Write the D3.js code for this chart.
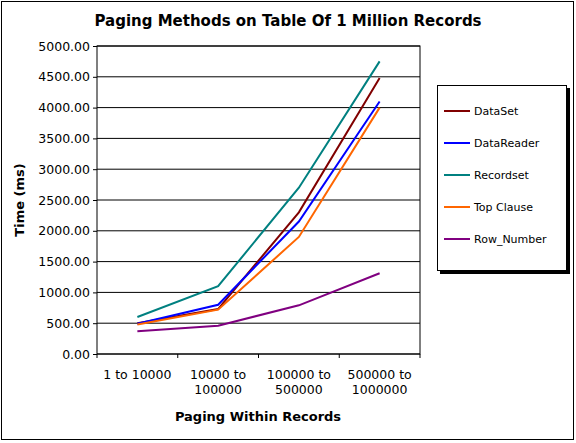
<!DOCTYPE html><html><head><meta charset="utf-8">
<script src="https://cdn.jsdelivr.net/npm/d3@7"></script>
<style>body{margin:0;background:#fff}text{font-family:"DejaVu Sans",Arial,sans-serif}</style></head><body>
<svg id="c" width="576" height="443"></svg>
<script>
const categories=[["1 to 10000"],["10000 to","100000"],["100000 to","500000"],["500000 to","1000000"]];
const seriesNames=["DataSet","DataReader","Recordset","Top Clause","Row_Number"];
const seriesColors=["#800000","#0000ff","#008080","#ff6600","#800080"];
const dataSet=[500,730,2300,4480];
const dataReader=[490,800,2150,4100];
const recordset=[600,1100,2700,4750];
const topClause=[480,720,1900,4000];
const rowNumber=[370,460,790,1310];
const yTicks=[0,500,1000,1500,2000,2500,3000,3500,4000,4500,5000];
const series=[dataSet,dataReader,recordset,topClause,rowNumber];

const svg=d3.select("#c");
svg.append("rect").attr("x",1.5).attr("y",1.5).attr("width",572).attr("height",438).attr("fill","#fff").attr("stroke","#000");
const L=97,R=420,T=46,B=354;
const x=d3.scaleBand().domain(d3.range(4)).range([L,R]);
const y=d3.scaleLinear().domain([0,5000]).range([B,T]);
svg.append("text").attr("x",288).attr("y",26).attr("text-anchor","middle").attr("font-size",15).attr("font-weight","bold").text("Paging Methods on Table Of 1 Million Records");
const g=svg.append("g");
yTicks.forEach(t=>g.append("line").attr("x1",L).attr("x2",R).attr("y1",y(t)).attr("y2",y(t)).attr("stroke","#000"));
g.append("rect").attr("x",L).attr("y",T).attr("width",R-L).attr("height",B-T).attr("fill","none").attr("stroke","#000");
const ya=svg.append("g").attr("transform",`translate(${L},0)`).call(d3.axisLeft(y).tickValues(yTicks).tickFormat(d3.format(".2f")).tickSize(4));
ya.select(".domain").remove();
ya.selectAll("text").attr("font-size",12.5).attr("font-family","DejaVu Sans").attr("fill","#000");
const xa=svg.append("g").attr("transform",`translate(0,${B})`);
d3.range(5).forEach(i=>{const xx=i<4?x(i):R;xa.append("line").attr("x1",xx).attr("x2",xx).attr("y1",0).attr("y2",4).attr("stroke","#000");});
categories.forEach((c,i)=>{const t=xa.append("text").attr("x",x(i)+x.bandwidth()/2).attr("y",25).attr("text-anchor","middle").attr("font-size",12.5);
 c.forEach((s,j)=>t.append("tspan").attr("x",x(i)+x.bandwidth()/2).attr("dy",j?15:0).text(s));});
svg.append("text").attr("x",258).attr("y",421).attr("text-anchor","middle").attr("font-size",13).attr("font-weight","bold").text("Paging Within Records");
svg.append("text").attr("transform","translate(24,200) rotate(-90)").attr("text-anchor","middle").attr("font-size",13).attr("font-weight","bold").text("Time (ms)");
const line=d3.line().x((d,i)=>x(i)+x.bandwidth()/2).y(d=>y(d));
series.forEach((s,k)=>svg.append("path").attr("d",line(s)).attr("fill","none").attr("stroke",seriesColors[k]).attr("stroke-width",2));
svg.append("rect").attr("x",440).attr("y",88).attr("width",130).attr("height",186).attr("fill","#000");
svg.append("rect").attr("x",437.5).attr("y",85.5).attr("width",129).attr("height",185).attr("fill","#fff").attr("stroke","#000");
seriesNames.forEach((n,k)=>{const yy=111+k*32;
 svg.append("line").attr("x1",444).attr("x2",470).attr("y1",yy).attr("y2",yy).attr("stroke",seriesColors[k]).attr("stroke-width",2);
 svg.append("text").attr("x",474).attr("y",yy+4).attr("font-size",11).text(n);});
</script></body></html>
